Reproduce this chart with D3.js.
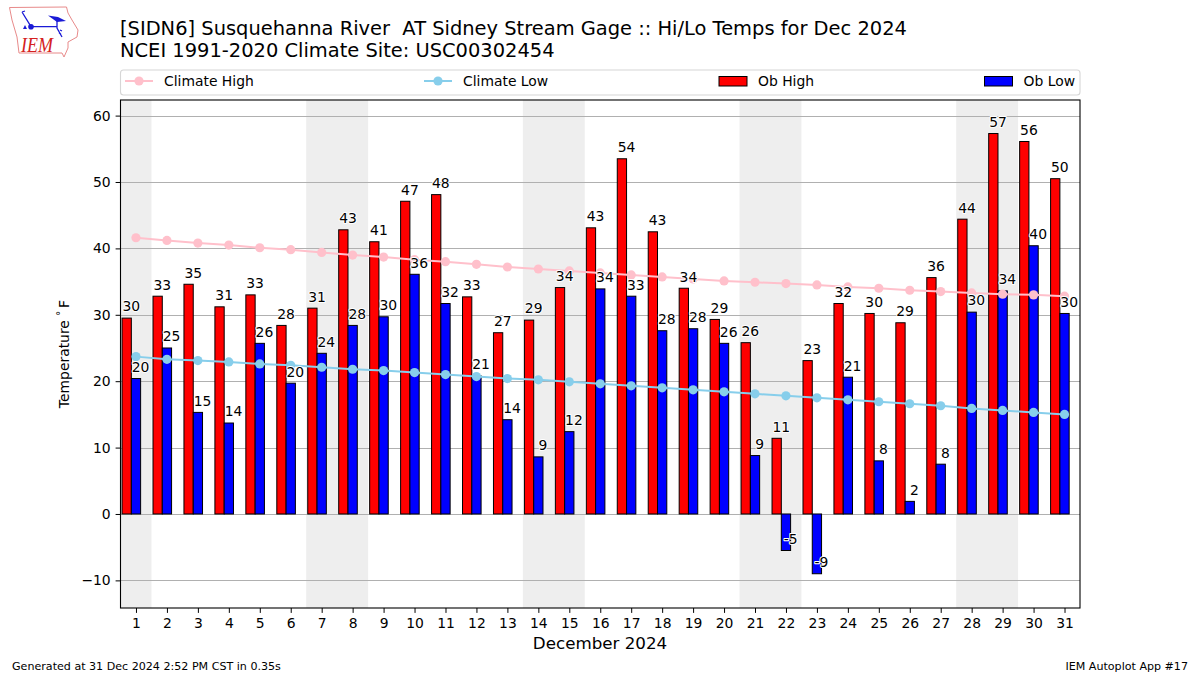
<!DOCTYPE html>
<html>
<head>
<meta charset="utf-8">
<script src="https://cdn.jsdelivr.net/npm/d3@7"></script>
<style>
body { margin: 0; background: #fff; }
svg { display: block; }
text { font-family: "DejaVu Sans", sans-serif; fill: #000; }
.tick text { font-size: 13.9px; }
.barlabel { font-size: 13.9px; text-anchor: middle; paint-order: stroke; stroke: #fff; stroke-width: 2px; stroke-linejoin: round; }
</style>
</head>
<body>
<svg id="chart" width="1200" height="675"></svg>
<script>
const days = d3.range(1, 32)
const obHigh = [29.5, 32.8, 34.6, 31.2, 33, 28.4, 31, 42.8, 41, 47.1, 48.1, 32.7, 27.3, 29.2, 34.1, 43.1, 53.5, 42.5, 34, 29.3, 25.8, 11.4, 23.1, 31.7, 30.2, 28.8, 35.6, 44.4, 57.3, 56.1, 50.5]
const obLow = [20.4, 25, 15.3, 13.7, 25.7, 19.7, 24.2, 28.4, 29.7, 36.1, 31.7, 20.8, 14.2, 8.6, 12.4, 33.9, 32.8, 27.6, 27.9, 25.7, 8.8, -5.5, -9, 20.6, 8, 1.9, 7.5, 30.4, 33.6, 40.4, 30.2]
const highLabels = [30, 33, 35, 31, 33, 28, 31, 43, 41, 47, 48, 33, 27, 29, 34, 43, 54, 43, 34, 29, 26, 11, 23, 32, 30, 29, 36, 44, 57, 56, 50]
const lowLabels = [20, 25, 15, 14, 26, 20, 24, 28, 30, 36, 32, 21, 14, 9, 12, 34, 33, 28, 28, 26, 9, -5, -9, 21, 8, 2, 8, 30, 34, 40, 30]
const climateHigh = [41.6, 41.2, 40.8, 40.5, 40.1, 39.8, 39.4, 39, 38.7, 38.3, 38, 37.6, 37.2, 36.9, 36.6, 36.3, 36, 35.7, 35.4, 35.1, 34.9, 34.7, 34.5, 34.2, 34, 33.7, 33.5, 33.3, 33.1, 33, 32.8]
const climateLow = [23.7, 23.3, 23.1, 22.9, 22.6, 22.4, 22.1, 21.8, 21.6, 21.3, 21, 20.7, 20.4, 20.2, 19.9, 19.6, 19.3, 19, 18.7, 18.4, 18.1, 17.8, 17.5, 17.2, 16.9, 16.6, 16.3, 15.9, 15.6, 15.3, 15]
const weekends = [[0.5, 1.5], [6.5, 8.5], [13.5, 15.5], [20.5, 22.5], [27.5, 29.5]]
const yTicks = [-10, 0, 10, 20, 30, 40, 50, 60]

const plotLeft = 120.5, plotRight = 1080, plotTop = 100, plotBottom = 608
const barWidth = 0.3

let svg = d3.select("#chart")
let x = d3.scaleLinear().domain([0.5, 31.5]).range([plotLeft, plotRight])
let y = d3.scaleLinear().domain([-14.16, 62.35]).range([plotBottom, plotTop])

// weekend shading
svg.selectAll(".weekend").data(weekends).enter().append("rect")
    .attr("x", d => x(d[0]))
    .attr("width", d => x(d[1]) - x(d[0]))
    .attr("y", plotTop)
    .attr("height", plotBottom - plotTop)
    .attr("fill", "#eeeeee")

// grid
svg.selectAll(".grid").data(yTicks).enter().append("line")
    .attr("x1", plotLeft).attr("x2", plotRight)
    .attr("y1", d => Math.round(y(d)) + 0.5).attr("y2", d => Math.round(y(d)) + 0.5)
    .attr("stroke", "#b0b0b0").attr("stroke-width", 1.1)

// bars sit left of the tick: the red one ends 0.15 before it, the blue one 0.15 after
function drawBars(values, offset, color) {
    svg.append("g").selectAll("rect").data(values).enter().append("rect")
        .attr("x", (d, i) => x(days[i] + offset))
        .attr("width", x(barWidth) - x(0))
        .attr("y", d => y(Math.max(d, 0)))
        .attr("height", d => Math.abs(y(d) - y(0)))
        .attr("fill", color)
        .attr("stroke", "#000")
        .attr("stroke-width", 1)
}
drawBars(obHigh, -0.45, "#ff0000")
drawBars(obLow, -0.15, "#0000ff")

function drawClimate(values, color) {
    let line = d3.line().x((d, i) => x(days[i])).y(d => y(d))
    let g = svg.append("g")
    g.append("path").attr("d", line(values)).attr("fill", "none").attr("stroke", color).attr("stroke-width", 2)
    g.selectAll("circle").data(values).enter().append("circle")
        .attr("cx", (d, i) => x(days[i]))
        .attr("cy", d => y(d))
        .attr("r", 4.6)
        .attr("fill", color)
}
drawClimate(climateHigh, "#ffc0cb")
drawClimate(climateLow, "#87ceeb")

function drawLabels(values, labels, offset) {
    svg.append("g").selectAll("text").data(values).enter().append("text")
        .attr("class", "barlabel")
        .attr("x", (d, i) => x(days[i] + offset))
        .attr("y", d => y(d + 1))
        .text((d, i) => labels[i])
}
drawLabels(obHigh, highLabels, -0.15)
drawLabels(obLow, lowLabels, 0.15)

// frame and axes
svg.append("rect").attr("x", plotLeft).attr("y", plotTop)
    .attr("width", plotRight - plotLeft).attr("height", plotBottom - plotTop)
    .attr("fill", "none").attr("stroke", "#000").attr("stroke-width", 1.1)

svg.append("g").attr("transform", `translate(${plotLeft},0)`)
    .call(d3.axisLeft(y).tickValues(yTicks).tickSize(4.9).tickPadding(4.9).tickFormat(d => d < 0 ? "\u2212" + (-d) : d))
    .call(g => g.select(".domain").remove())
svg.append("g").attr("transform", `translate(0,${plotBottom})`)
    .call(d3.axisBottom(x).tickValues(days).tickSize(4.9).tickPadding(4.9).tickFormat(d3.format("d")))
    .call(g => g.select(".domain").remove())

// titles
svg.append("text").attr("x", 120).attr("y", 35).attr("font-size", 19.45).attr("xml:space", "preserve")
    .style("white-space", "pre")
    .text("[SIDN6] Susquehanna River  AT Sidney Stream Gage :: Hi/Lo Temps for Dec 2024")
svg.append("text").attr("x", 120).attr("y", 57).attr("font-size", 19.45)
    .text("NCEI 1991-2020 Climate Site: USC00302454")
svg.append("text").attr("x", 600).attr("y", 649).attr("font-size", 16.7).attr("text-anchor", "middle")
    .text("December 2024")
let yLabel = svg.append("text").attr("transform", "translate(68.5,354) rotate(-90)")
    .attr("font-size", 13.9).attr("text-anchor", "middle")
yLabel.append("tspan").text("Temperature ")
yLabel.append("tspan").attr("font-size", 9.7).attr("dy", -5).text("\u00b0")
yLabel.append("tspan").attr("dy", 5).attr("dx", 3).text("F")
svg.append("text").attr("x", 12).attr("y", 670).attr("font-size", 11.1)
    .text("Generated at 31 Dec 2024 2:52 PM CST in 0.35s")
svg.append("text").attr("x", 1188).attr("y", 670).attr("font-size", 11.1).attr("text-anchor", "end")
    .text("IEM Autoplot App #17")

// legend
svg.append("rect").attr("x", 120.5).attr("y", 70).attr("width", 959.5).attr("height", 25).attr("rx", 3)
    .attr("fill", "#fff").attr("stroke", "#d6d6d6").attr("stroke-width", 1.1)
const legendY = 81
function legendLine(x0, color, label) {
    svg.append("line").attr("x1", x0).attr("x2", x0 + 28).attr("y1", legendY).attr("y2", legendY)
        .attr("stroke", color).attr("stroke-width", 2)
    svg.append("circle").attr("cx", x0 + 14).attr("cy", legendY).attr("r", 4.6).attr("fill", color)
    svg.append("text").attr("x", x0 + 39).attr("y", legendY + 5).attr("font-size", 13.9).text(label)
}
function legendBar(x0, color, label) {
    svg.append("rect").attr("x", x0).attr("y", legendY - 4.5).attr("width", 28).attr("height", 9.5)
        .attr("fill", color).attr("stroke", "#000").attr("stroke-width", 1)
    svg.append("text").attr("x", x0 + 39).attr("y", legendY + 5).attr("font-size", 13.9).text(label)
}
legendLine(125, "#ffc0cb", "Climate High")
legendLine(424, "#87ceeb", "Climate Low")
legendBar(719, "#ff0000", "Ob High")
legendBar(984.5, "#0000ff", "Ob Low")

// logo
let logo = svg.append("g")
logo.append("path")
    .attr("d", "M9.5,7.5 L66.5,7 L68,13 L72,20 L78,30 L77,37 L68,42 L68,48 L64,57 L62,53 L19,53 L17,37 L12,20 Z")
    .attr("fill", "#fff").attr("stroke", "#e88a8a").attr("stroke-width", 1)
logo.append("path")
    .attr("d", "M31,26.7 L57,26.7 M57,20 L57,28 L62,37 M31,26.7 L22,12 M22,12 L25,11 M60,30 L62,31 M59,33 L61,34")
    .attr("fill", "none").attr("stroke", "#1a1ad6").attr("stroke-width", 1.3)
logo.append("path").attr("d", "M48,15.5 L58,17 L66,21 L57,22 Z").attr("fill", "#1a1ad6")
logo.append("circle").attr("cx", 31).attr("cy", 26.7).attr("r", 2.8).attr("fill", "#1a1ad6")
logo.append("path").attr("d", "M23,29 L25,25 L27,29 Z").attr("fill", "#1a1ad6")
logo.append("text").attr("x", 21).attr("y", 52).attr("font-size", 21)
    .attr("textLength", 32).attr("lengthAdjust", "spacingAndGlyphs")
    .style("font-family", "'Liberation Serif', serif").style("font-style", "italic").style("fill", "#d42020")
    .text("IEM")
</script>
</body>
</html>
